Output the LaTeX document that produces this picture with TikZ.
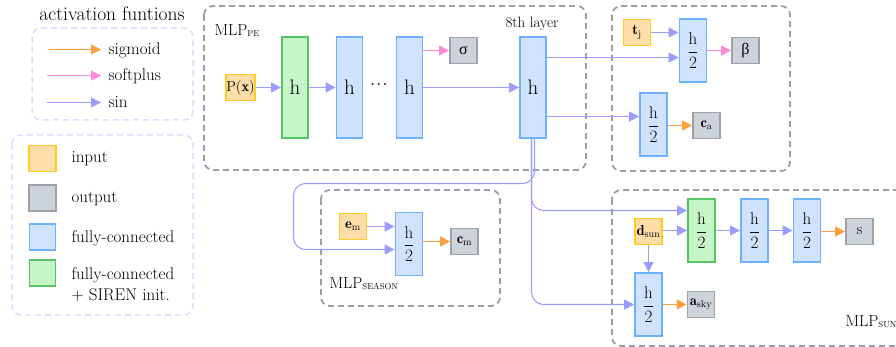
\documentclass[tikz,border=0pt]{standalone}
\usepackage{amsmath}
\usepackage{fontspec}
\usetikzlibrary{arrows.meta, calc}
\newfontfamily\greekfont{Liberation Serif}
\definecolor{inFill}{HTML}{FFDDA8}
\definecolor{inDraw}{HTML}{FFCC22}
\definecolor{outFill}{HTML}{CDD3DA}
\definecolor{outDraw}{HTML}{9EA2A8}
\definecolor{fcFill}{HTML}{CFE3FF}
\definecolor{fcDraw}{HTML}{6CB2FF}
\definecolor{sirenFill}{HTML}{C6F5C8}
\definecolor{sirenDraw}{HTML}{55C463}
\definecolor{groupGrey}{HTML}{9A9EA5}
\definecolor{legendDash}{HTML}{DCDCFF}
\definecolor{sinC}{HTML}{9C9CFF}
\definecolor{softC}{HTML}{FF8AD8}
\definecolor{sigC}{HTML}{FF9E3D}
\newcommand{\sub}[1]{\raisebox{-1pt}{\fontsize{8.5}{9}\selectfont #1}}

\begin{document}
\begin{tikzpicture}[
  x=1pt, y=-1pt,
  every node/.style={font=\fontsize{17}{21}\selectfont},
  inbox/.style={draw=inDraw, fill=inFill, line width=1.8pt,
                minimum width=27pt, minimum height=26pt, inner sep=0pt,
                font=\fontsize{14.5}{16}\selectfont},
  outbox/.style={inbox, draw=outDraw, fill=outFill},
  layer/.style={draw=fcDraw, fill=fcFill, line width=1.8pt,
                minimum width=26pt, minimum height=101pt, inner sep=0pt,
                font=\fontsize{21}{23}\selectfont},
  siren/.style={layer, draw=sirenDraw, fill=sirenFill},
  half/.style={layer, minimum width=27pt, minimum height=63pt,
               font=\fontsize{17}{19}\selectfont},
  halfsiren/.style={half, draw=sirenDraw, fill=sirenFill},
  group/.style={draw=groupGrey, dash pattern=on 6pt off 4pt,
                line width=1.8pt, rounded corners=9pt},
  legendgroup/.style={draw=legendDash, dash pattern=on 6pt off 4pt,
                      line width=1.5pt, rounded corners=9pt},
  sinarr/.style={draw=sinC, line width=1.1pt, -{Triangle[length=10pt,width=10pt]}},
  softarr/.style={sinarr, draw=softC},
  sigarr/.style={sinarr, draw=sigC},
]
\useasboundingbox (0,0) rectangle (896,347);
\clip (0,0) rectangle (896,347);

% Legend
\node (acttitle) at (112,14) {\fontsize{19.5}{22}\selectfont activation funtions};
\draw[legendgroup] (32,28) rectangle (193,120);
\node[anchor=west] (sigtxt) at (105,50) {sigmoid};
\node[anchor=west] (softtxt) at (105,76) {softplus};
\node[anchor=west] (sintxt) at (105,102) {sin};
\coordinate (sigstart) at (49,49.5);
\coordinate (softstart) at (47,75.5);
\coordinate (sinstart) at (47,102.5);
\draw[sigarr] (sigstart) -- (sigstart -| 101,0);
\draw[softarr] (softstart) -- (softstart -| 101,0);
\draw[sinarr] (sinstart) -- (sinstart -| 101,0);

\draw[legendgroup] (12,135) rectangle (193,315);
\node[inbox] (keyin) at (42.5,158.5) {};
\node[outbox] (keyout) at (42.5,198) {};
\node[layer, minimum height=26pt] (keyfc) at (42.5,237) {};
\node[siren, minimum height=26pt] (keysiren) at (42.5,273) {};
\node[anchor=west] at (68,159) {input};
\node[anchor=west] at (68,199) {output};
\node[anchor=west] at (68,238) {fully-connected};
\node[anchor=west, align=left] at (68,285) {fully-connected\\+ SIREN init.};

% MLP_PE
\draw[group] (204,6) rectangle (586,170);
\node[anchor=west, font=\fontsize{16}{18}\selectfont] (pelabel) at (211,31) {MLP\sub{PE}};
\node[inbox] (px) at (240.5,87.5) {P($\mathbf{x}$)};
\node[siren] (h1) at (295,87.5) {h};
\node[layer] (h2) at (349.5,87.5) {h};
\node[font=\fontsize{13}{15}\selectfont] (dots) at (380,85) {$\boldsymbol{\cdots}$};
\node[layer] (h3) at (409.5,87.5) {h};
\node[outbox, font=\fontsize{16}{18}\selectfont] (sigma) at (463.5,50.5) {\greekfont σ};
\node[font=\fontsize{15}{17}\selectfont] (layerlabel) at (532,24) {8th layer};
\node[layer] (h8) at (533,87.5) {h};
\draw[sinarr] (px) -- (h1);
\draw[sinarr] (h1) -- (h2);
\draw[sinarr] (h3) -- (h8);
\draw[softarr] (h3.east |- sigma) -- (sigma);

% transient / colour head
\draw[group] (612,6) rectangle (790,171);
\node[inbox] (tj) at (637,32.5) {$\mathbf{t}_{\mathrm{j}}$};
\node[half] (hbeta) at (693,50.5) {$\dfrac{\mathrm{h}}{2}$};
\node[outbox, font=\fontsize{16}{18}\selectfont] (beta) at (745.5,50.5) {\greekfont β};
\node[half] (hca) at (653.5,124.5) {$\dfrac{\mathrm{h}}{2}$};
\node[outbox] (ca) at (706.5,125.5) {$\mathbf{c}_{\mathrm{a}}$};
\draw[sinarr] (tj) -- (tj -| hbeta.west);
\draw[sinarr] ($(h8.east)+(0,-30)$) -- ($(hbeta.west)+(0,7)$);
\draw[softarr] (hbeta.east |- beta) -- (beta);
\draw[sinarr] ($(h8.east)+(0,29)$) -- ($(hca.west)+(0,-8)$);
\draw[sigarr] (hca.east |- ca) -- (ca);

% MLP_season
\draw[group] (321,190) rectangle (500,306);
\node[inbox] (em) at (353,226.5) {$\mathbf{e}_{\mathrm{m}}$};
\node[half] (hcm) at (409,244) {$\dfrac{\mathrm{h}}{2}$};
\node[outbox] (cm) at (464.5,241.5) {$\mathbf{c}_{\mathrm{m}}$};
\node[anchor=west, font=\fontsize{16}{18}\selectfont] (seasonlabel) at (326,284) {MLP\sub{SEASON}};
\coordinate (seasonturn) at (293.5,183.5);
\draw[sinarr] (em) -- (em -| hcm.west);
\draw[sigarr] (hcm.east |- cm) -- (cm);
\draw[sinarr, rounded corners=12pt] ([xshift=1.5pt]h8.south) |- (seasonturn)
  |- ($(hcm.west)+(0,5.5)$);

% MLP_sun
\draw[group] (612,190) rectangle (910,346);
\node[inbox] (dsun) at (648.5,231.5) {$\mathbf{d}_{\mathrm{sun}}$};
\node[halfsiren] (hs1) at (701.5,230.5) {$\dfrac{\mathrm{h}}{2}$};
\node[half] (hs2) at (754.5,230.5) {$\dfrac{\mathrm{h}}{2}$};
\node[half] (hs3) at (807,230.5) {$\dfrac{\mathrm{h}}{2}$};
\node[outbox, font=\fontsize{16}{18}\selectfont] (s) at (859.5,231.5) {s};
\node[half] (hsky) at (648.5,304.5) {$\dfrac{\mathrm{h}}{2}$};
\node[outbox] (asky) at (701,304.5) {$\mathbf{a}_{\mathrm{sky}}$};
\node[anchor=west, font=\fontsize{16}{18}\selectfont] (sunlabel) at (842,322) {MLP\sub{SUN}};
\draw[sinarr] (dsun.east |- hs1) -- (hs1);
\draw[sinarr] (hs1) -- (hs2);
\draw[sinarr] (hs2) -- (hs3);
\draw[sigarr] (hs3.east |- s) -- (s);
\draw[sinarr] (dsun) -- (hsky);
\draw[sigarr] (hsky.east |- asky) -- (asky);
\draw[sinarr, rounded corners=12pt] ([xshift=-1.5pt]h8.south) |- ($(hs1.west)+(0,-20)$);
\draw[sinarr, rounded corners=12pt] ([xshift=-1.5pt]h8.south) |- (hsky.west);
\end{tikzpicture}
\end{document}
